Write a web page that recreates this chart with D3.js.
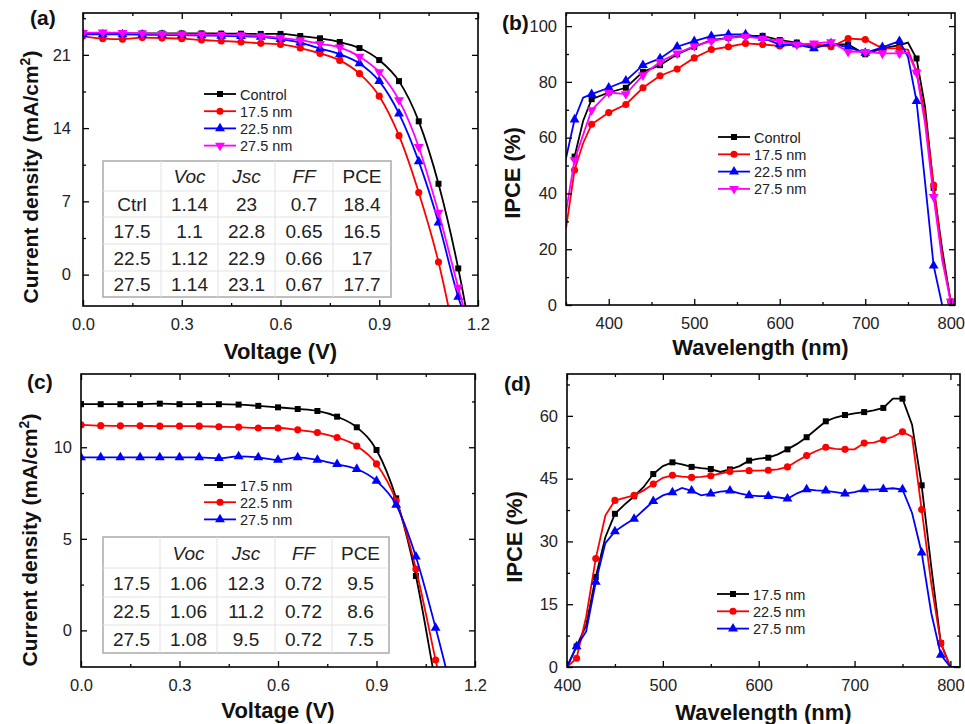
<!DOCTYPE html>
<html lang="en">
<head>
<meta charset="UTF-8">
<title>J-V and IPCE</title>
<style>
  body { margin: 0; background: #fff; }
  svg { font-family: "Liberation Sans", Arial, sans-serif; }
  .tick text { font-size: 16.5px; fill: #222; }
  .tick line { stroke: #000; stroke-width: 1.3px; }
</style>
</head>
<body>
<script src="https://cdn.jsdelivr.net/npm/d3@7"></script>
<script>
// ---------- data: panel (a) J-V ----------
var voltsA = [0, 0.06, 0.12, 0.18, 0.24, 0.30, 0.36, 0.42, 0.48, 0.54, 0.60, 0.66, 0.72, 0.78, 0.84, 0.90, 0.96, 1.02, 1.08, 1.14, 1.20];
var jvCtrl = [23.1, 23.05, 23.05, 23.05, 23.05, 23.05, 23.05, 23.03, 23.02, 23.0, 23.0, 22.8, 22.58, 22.23, 21.65, 20.5, 18.49, 14.65, 8.68, 0.59, -9.7];
var jv175 = [22.8, 22.55, 22.5, 22.65, 22.6, 22.55, 22.42, 22.33, 22.23, 22.1, 22.0, 21.65, 21.14, 20.47, 19.2, 17.05, 13.28, 7.84, 1.2, -7.5, -16];
var jv225 = [22.97, 22.95, 22.95, 22.93, 22.9, 22.88, 22.85, 22.82, 22.78, 22.72, 22.49, 22.17, 21.6, 21.05, 20.18, 18.49, 15.39, 10.82, 4.97, -2.13, -7];
var jv275 = [23.1, 23.15, 23.1, 23.05, 23.0, 22.98, 22.95, 22.92, 22.88, 22.8, 22.62, 22.4, 22.05, 21.72, 20.83, 19.35, 16.67, 12.2, 5.93, -1.23, -8.3];
var namesA = ["Control", "17.5 nm", "22.5 nm", "27.5 nm"];
var tableHeadA = ["", "Voc", "Jsc", "FF", "PCE"];
var tableRowsA = [
  ["Ctrl", "1.14", "23", "0.7", "18.4"],
  ["17.5", "1.1", "22.8", "0.65", "16.5"],
  ["22.5", "1.12", "22.9", "0.66", "17"],
  ["27.5", "1.14", "23.1", "0.67", "17.7"]
];

// ---------- data: panel (b) IPCE ----------
var waveB = [350, 360, 370, 380, 400, 420, 440, 460, 480, 500, 520, 540, 560, 580, 600, 620, 640, 660, 680, 700, 720, 740, 750, 760, 770, 780, 790, 800];
var ipceCtrl = [null, 53.2, 66, 73.8, 76.2, 77.9, 83.6, 86, 89.9, 92.6, 95, 95.8, 96.5, 96.5, 95, 94.1, 92.6, 93.4, 93.4, 89.9, 92, 93.2, 94.1, 88.4, 71, 42, 20, 1.2];
var ipce175 = [27.5, 48.4, 58, 64.8, 69, 71.9, 77.9, 82.2, 84.6, 88.6, 91.6, 92.6, 93.8, 93.4, 92.9, 93.4, 93.5, 92.6, 95.5, 95.2, 92, 92, 91.5, 83.6, 68, 43, 18, 1.2];
var ipce225 = [52.6, 66.5, 74.3, 75.6, 77.9, 80.4, 86, 88.4, 92.6, 94.6, 96.4, 97.0, 97, 95.8, 93.4, 93.4, 92, 93.8, 92.4, 90.4, 92.4, 94.6, 89, 73.1, 44, 14.1, 0, null];
var ipce275 = [33.4, 52, 61, 69.9, 76.2, 75.6, 82.4, 87.2, 90.2, 92.8, 94.6, 95.8, 96.2, 95.5, 94.6, 93.4, 93.8, 94.3, 90.8, 90.8, 90.2, 90.2, 90.5, 83.3, 65, 38.8, 16, 1.2];
var namesB = ["Control", "17.5 nm", "22.5 nm", "27.5 nm"];

// ---------- data: panel (c) J-V ----------
var voltsC = [0, 0.06, 0.12, 0.18, 0.24, 0.30, 0.36, 0.42, 0.48, 0.54, 0.60, 0.66, 0.72, 0.78, 0.84, 0.90, 0.96, 1.02, 1.08, 1.14, 1.20];
var jc175 = [12.35, 12.35, 12.35, 12.35, 12.38, 12.35, 12.35, 12.35, 12.33, 12.26, 12.18, 12.09, 11.98, 11.67, 11.09, 9.85, 7.21, 2.97, -2.9, -8.7, -14.5];
var jc225 = [11.22, 11.18, 11.17, 11.17, 11.15, 11.15, 11.15, 11.12, 11.1, 11.05, 11.05, 10.95, 10.8, 10.53, 10.07, 9.09, 7.07, 3.35, -1.62, -6.6, -11.6];
var jc275 = [9.45, 9.45, 9.45, 9.45, 9.45, 9.45, 9.45, 9.4, 9.5, 9.45, 9.31, 9.45, 9.31, 9.07, 8.81, 8.16, 6.85, 4.02, 0.14, -4.1, -8.4];
var namesC = ["17.5 nm", "22.5 nm", "27.5 nm"];
var tableHeadC = ["", "Voc", "Jsc", "FF", "PCE"];
var tableRowsC = [
  ["17.5", "1.06", "12.3", "0.72", "9.5"],
  ["22.5", "1.06", "11.2", "0.72", "8.6"],
  ["27.5", "1.08", "9.5", "0.72", "7.5"]
];

// ---------- data: panel (d) IPCE ----------
var waveD = [400, 410, 420, 430, 440, 450, 460, 470, 480, 490, 500, 510, 520, 530, 540, 550, 560, 570, 580, 590, 600,
             610, 620, 630, 640, 650, 660, 670, 680, 690, 700, 710, 720, 730, 740, 750, 760, 770, 780, 790, 800, 810];
var ipceD175 = [0, 4.9, 10, 21.5, 31, 36.6, 38.8, 40.8, 43, 46.1, 48, 48.9, 48.4, 47.8, 47.5, 47.3, 46.6, 47.2, 48, 49.3, 49.8,
                50, 50.8, 52, 53.3, 54.9, 56.8, 58.7, 59.6, 60.2, 60.6, 60.9, 61.3, 61.9, 64.1, 64.1, 57.9, 43.4, 24, 5.7, 0, 0];
var ipceD225 = [0, 2.1, 12, 25.9, 36.2, 39.8, 40.4, 41, 42.2, 43.7, 45.2, 45.8, 45.5, 45.3, 45.4, 45.7, 46.2, 46.7, 46.8, 46.9, 46.9,
                47, 47.2, 47.8, 49.2, 50.5, 51.6, 52.5, 52.1, 52, 52, 53.5, 53.6, 54.3, 55, 56.2, 55, 37.6, 20, 5.7, 0, null];
var ipceD275 = [0, 4.9, 8.5, 20.3, 29.6, 32.4, 34, 35.4, 37.5, 39.6, 41, 41.7, 42.8, 42.1, 41, 41.4, 41.9, 42.1, 41.5, 41, 40.8,
                40.8, 40.5, 40.2, 41.5, 42.4, 42.2, 42.1, 41.8, 41.4, 41.8, 42.4, 42.4, 42.5, 42.7, 42.4, 36.8, 27.3, 12.9, 2.9, 0, null];
var namesD = ["17.5 nm", "22.5 nm", "27.5 nm"];

var colors = ["#000000", "#ff0000", "#0000ff", "#ff00ff"];
var symbols = [d3.symbolSquare, d3.symbolCircle, d3.symbolTriangle, d3.symbolTriangle];
var symSize = [36, 40, 42, 42];
var symRot = [0, 0, 0, 180];

var svg = d3.select("body").append("svg").attr("width", 965).attr("height", 724);

function drawPanel(c, id) {
    var x = d3.scaleLinear().domain(c.xDomain).range([c.left, c.right]);
    var y = d3.scaleLinear().domain(c.yDomain).range([c.bottom, c.top]);
    var g = svg.append("g");

    g.append("clipPath").attr("id", "clip" + id)
        .append("rect").attr("x", c.left).attr("y", c.top)
        .attr("width", c.right - c.left).attr("height", c.bottom - c.top);

    var plot = g.append("g").attr("clip-path", "url(#clip" + id + ")");
    var line = d3.line()
        .defined(function (d) { return d[1] != null; })
        .x(function (d) { return x(d[0]); })
        .y(function (d) { return y(d[1]); })
        .curve(c.curve);

    c.series.forEach(function (s, k) {
        var pts = c.xs.map(function (v, i) { return [v, s[i]]; });
        plot.append("path").datum(pts)
            .attr("d", line).attr("fill", "none")
            .attr("stroke", colors[k]).attr("stroke-width", 1.8);
        var mk = pts.filter(function (d) { return d[1] != null && c.marker(d[0]); });
        plot.selectAll(null).data(mk).enter().append("path")
            .attr("d", d3.symbol().type(symbols[k]).size(symSize[k]))
            .attr("transform", function (d) {
                return "translate(" + x(d[0]) + "," + y(d[1]) + ") rotate(" + symRot[k] + ")";
            })
            .attr("fill", colors[k]);
    });

    // axes (ticks inward on all four sides)
    function ax(axisFn, scale, tv, size, fmt, tr, pad) {
        var a = axisFn(scale).tickValues(tv).tickSize(size).tickPadding(pad || 0);
        a.tickFormat(fmt || "");
        var gg = g.append("g").attr("transform", tr).call(a);
        gg.select(".domain").remove();
        return gg;
    }
    var b = "translate(0," + c.bottom + ")", t = "translate(0," + c.top + ")";
    var l = "translate(" + c.left + ",0)", r = "translate(" + c.right + ",0)";
    ax(d3.axisBottom, x, c.xMajor, -6, c.xFmt, b, c.xPad);
    ax(d3.axisBottom, x, c.xMinor, -3, null, b);
    ax(d3.axisTop, x, c.xMajor, -6, null, t);
    ax(d3.axisTop, x, c.xMinor, -3, null, t);
    ax(d3.axisLeft, y, c.yMajor, -6, c.yFmt, l, c.yPad);
    ax(d3.axisLeft, y, c.yMinor, -3, null, l);
    ax(d3.axisRight, y, c.yMajor, -6, null, r);
    ax(d3.axisRight, y, c.yMinor, -3, null, r);

    g.append("rect").attr("x", c.left).attr("y", c.top)
        .attr("width", c.right - c.left).attr("height", c.bottom - c.top)
        .attr("fill", "none").attr("stroke", "#000").attr("stroke-width", 1.6);

    // titles
    g.append("text").attr("x", (c.left + c.right) / 2).attr("y", c.xTitleY)
        .attr("text-anchor", "middle").attr("font-size", 22).attr("font-weight", "bold")
        .attr("fill", "#111").text(c.xTitle);
    var yt = g.append("text").attr("transform", "translate(" + c.yTitleX + "," + c.yTitleC + ") rotate(-90)")
        .attr("text-anchor", "middle").attr("font-size", c.yTitleSize).attr("font-weight", "bold").attr("fill", "#111");
    yt.append("tspan").text(c.yTitle);
    if (c.yTitleSup) {
        yt.append("tspan").attr("font-size", 14).attr("dy", -8).text(c.yTitleSup);
        yt.append("tspan").attr("dy", 8).text(")");
    }
    g.append("text").attr("x", c.tagX).attr("y", c.tagY).attr("font-size", 21)
        .attr("font-weight", "bold").attr("fill", "#111").text(c.tag);

    // legend
    c.names.forEach(function (n, k) {
        var ly = c.legY + k * c.legStep;
        g.append("line").attr("x1", c.legX).attr("x2", c.legX + 32).attr("y1", ly).attr("y2", ly)
            .attr("stroke", colors[k]).attr("stroke-width", 1.8);
        g.append("path").attr("d", d3.symbol().type(symbols[k]).size(symSize[k]))
            .attr("transform", "translate(" + (c.legX + 16) + "," + ly + ") rotate(" + symRot[k] + ")")
            .attr("fill", colors[k]);
        g.append("text").attr("x", c.legX + 36).attr("y", ly + 5.5).attr("font-size", 14.5)
            .attr("fill", "#222").text(n);
    });

    // inset table
    if (c.table) {
        var T = c.table, cols = T.cols, rows = T.rows;
        var tg = g.append("g");
        tg.append("rect").attr("x", cols[0]).attr("y", rows[0])
            .attr("width", cols[cols.length - 1] - cols[0]).attr("height", rows[rows.length - 1] - rows[0])
            .attr("fill", "#fff").attr("stroke", "#aaa").attr("stroke-width", 1.5);
        cols.slice(1, -1).forEach(function (cx) {
            tg.append("line").attr("x1", cx).attr("x2", cx).attr("y1", rows[0]).attr("y2", rows[rows.length - 1])
                .attr("stroke", "#e2e2e2").attr("stroke-width", 1);
        });
        rows.slice(1, -1).forEach(function (ry) {
            tg.append("line").attr("y1", ry).attr("y2", ry).attr("x1", cols[0]).attr("x2", cols[cols.length - 1])
                .attr("stroke", "#e2e2e2").attr("stroke-width", 1);
        });
        var all = [T.head].concat(T.body);
        all.forEach(function (row, ri) {
            row.forEach(function (txt, ci) {
                tg.append("text")
                    .attr("x", (cols[ci] + cols[ci + 1]) / 2)
                    .attr("y", (rows[ri] + rows[ri + 1]) / 2 + 7)
                    .attr("text-anchor", "middle").attr("font-size", 19).attr("fill", "#222")
                    .attr("font-style", (ri === 0 && ci > 0 && ci < 4) ? "italic" : "normal")
                    .text(txt);
            });
        });
    }
}

var fmt1 = d3.format(".1f");

drawPanel({
    left: 83, right: 478, top: 13, bottom: 306,
    xDomain: [0, 1.2], yDomain: [-3, 25],
    xs: voltsA, series: [jvCtrl, jv175, jv225, jv275],
    curve: d3.curveMonotoneX,
    marker: function () { return true; },
    xMajor: [0, 0.3, 0.6, 0.9, 1.2], xMinor: [0.15, 0.45, 0.75, 1.05], xFmt: fmt1, xPad: 12,
    yMajor: [0, 7, 14, 21], yMinor: [3.5, 10.5, 17.5, 24.5], yFmt: d3.format("d"), yPad: 12,
    xTitle: "Voltage (V)", xTitleY: 359,
    yTitle: "Current density (mA/cm", yTitleSup: "2", yTitleX: 38, yTitleC: 177, yTitleSize: 21,
    tag: "(a)", tagX: 30, tagY: 25,
    names: namesA, legX: 204, legY: 94, legStep: 17.2,
    table: { cols: [103, 161, 218, 275, 333, 391], rows: [161, 191, 217, 244, 271, 297], head: tableHeadA, body: tableRowsA }
}, "a");

drawPanel({
    left: 566, right: 955, top: 13, bottom: 305,
    xDomain: [350, 805], yDomain: [0, 104.7],
    xs: waveB, series: [ipceCtrl, ipce175, ipce225, ipce275],
    curve: d3.curveLinear,
    marker: function (v) { return (v - 360) % 20 === 0; },
    xMajor: [400, 500, 600, 700, 800], xMinor: [350, 450, 550, 650, 750], xFmt: d3.format("d"), xPad: 12,
    yMajor: [0, 20, 40, 60, 80, 100], yMinor: [10, 30, 50, 70, 90], yFmt: d3.format("d"), yPad: 9,
    xTitle: "Wavelength (nm)", xTitleY: 355,
    yTitle: "IPCE (%)", yTitleX: 520, yTitleC: 173, yTitleSize: 22,
    tag: "(b)", tagX: 502, tagY: 30,
    names: namesB, legX: 718, legY: 137, legStep: 17.3
}, "b");

drawPanel({
    left: 81, right: 475, top: 374, bottom: 667,
    xDomain: [0, 1.2], yDomain: [-2, 14],
    xs: voltsC, series: [jc175, jc225, jc275],
    curve: d3.curveMonotoneX,
    marker: function () { return true; },
    xMajor: [0, 0.3, 0.6, 0.9, 1.2], xMinor: [0.15, 0.45, 0.75, 1.05], xFmt: fmt1, xPad: 12,
    yMajor: [0, 5, 10], yMinor: [2.5, 7.5, 12.5], yFmt: d3.format("d"), yPad: 9,
    xTitle: "Voltage (V)", xTitleY: 718,
    yTitle: "Current density (mA/cm", yTitleSup: "2", yTitleX: 37, yTitleC: 540, yTitleSize: 21,
    tag: "(c)", tagX: 27, tagY: 389,
    names: namesC, legX: 204, legY: 485, legStep: 17.2,
    table: { cols: [103, 160, 217, 275, 332, 389], rows: [537, 568, 597, 625, 653], head: tableHeadC, body: tableRowsC }
}, "c");

drawPanel({
    left: 567, right: 960, top: 374, bottom: 667,
    xDomain: [400, 810], yDomain: [0, 70],
    xs: waveD, series: [ipceD175, ipceD225, ipceD275],
    curve: d3.curveLinear,
    marker: function (v) { return (v - 410) % 20 === 0 && v < 800; },
    xMajor: [400, 500, 600, 700, 800], xMinor: [450, 550, 650, 750], xFmt: d3.format("d"), xPad: 12,
    yMajor: [0, 15, 30, 45, 60], yMinor: [7.5, 22.5, 37.5, 52.5, 67.5], yFmt: d3.format("d"), yPad: 9,
    xTitle: "Wavelength (nm)", xTitleY: 720,
    yTitle: "IPCE (%)", yTitleX: 522, yTitleC: 537, yTitleSize: 22,
    tag: "(d)", tagX: 504, tagY: 391,
    names: namesD, legX: 717, legY: 594, legStep: 17.3
}, "d");
</script>
</body>
</html>
